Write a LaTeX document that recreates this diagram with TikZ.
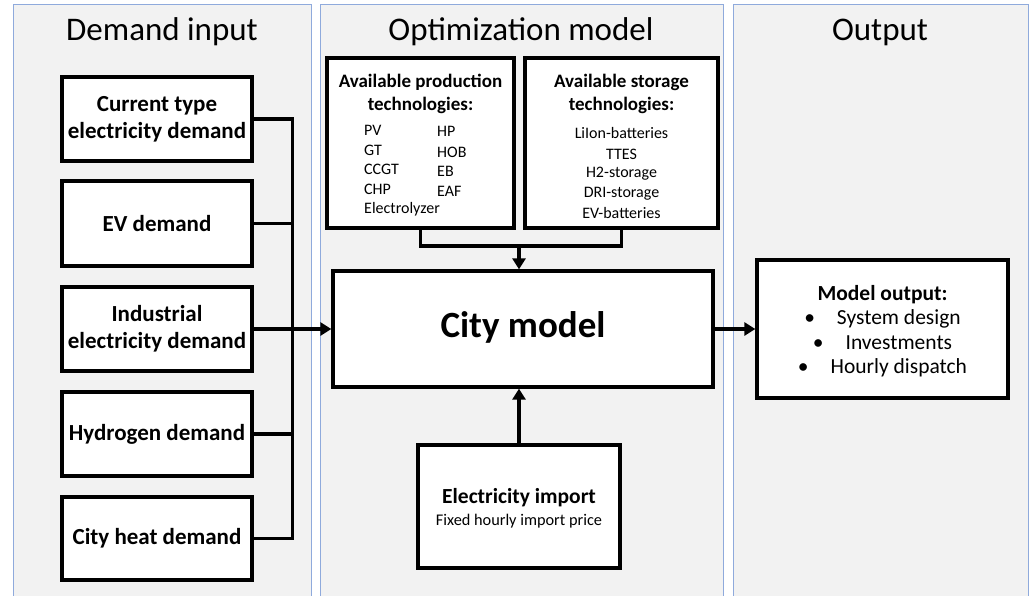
\documentclass[tikz,border=0pt]{standalone}
\usepackage{fontspec}
\setmainfont{Carlito}
\usetikzlibrary{arrows.meta}
\definecolor{panelfill}{HTML}{F2F2F2}
\definecolor{panelline}{HTML}{8FAADC}
\tikzset{
  panel/.style={draw=panelline, line width=1.2pt, fill=panelfill, inner sep=0pt, anchor=north west},
  box/.style={draw=black, line width=3.3pt, fill=white, inner sep=0pt, align=center},
  ttl/.style={font=\fontsize{33}{38}\selectfont, inner sep=0pt},
  boxtxt/.style={font=\bfseries\fontsize{23}{27}\selectfont, align=center, inner sep=0pt},
  small/.style={font=\fontsize{16}{20}\selectfont, inner sep=0pt},
  conn/.style={line width=3.3pt},
  arr/.style={line width=3.3pt, -{Triangle[length=11pt,width=13pt]}},
}
\begin{document}
\begin{tikzpicture}[x=1pt,y=-1pt]
\useasboundingbox (0,0) rectangle (1030,595);
% panels
\node[panel, minimum width=298pt, minimum height=592pt] (p1) at (13,4) {};
\node[panel, minimum width=403pt, minimum height=592pt] (p2) at (319.5,4) {};
\node[panel, minimum width=295pt, minimum height=592pt] (p3) at (733,4) {};
\node[ttl] (t1) at (162,32) {Demand input};
\node[ttl] (t2) at (521,32) {Optimization model};
\node[ttl] (t3) at (880,32) {Output};
% demand boxes
\node[box, minimum width=190pt, minimum height=84pt] (b1) at (157,119) {};
\node[boxtxt] (b1t) at (b1) {Current type\\electricity demand};
\node[box, minimum width=190pt, minimum height=85pt] (b2) at (157,223.5) {};
\node[boxtxt] (b2t) at (b2) {EV demand};
\node[box, minimum width=190pt, minimum height=84pt] (b3) at (157,329) {};
\node[boxtxt] (b3t) at (b3) {Industrial\\electricity demand};
\node[box, minimum width=190pt, minimum height=84pt] (b4) at (157,434) {};
\node[boxtxt] (b4t) at (b4) {Hydrogen demand};
\node[box, minimum width=190pt, minimum height=83pt] (b5) at (157,538.5) {};
\node[boxtxt] (b5t) at (b5) {City heat demand};
% city model
\node[box, minimum width=380pt, minimum height=116pt] (city) at (523,329) {};
\node[font=\bfseries\fontsize{37}{40}\selectfont, inner sep=0pt] (cityt) at (523,327) {City model};
% production technologies
\node[box, minimum width=187pt, minimum height=170pt] (prod) at (420.5,143) {};
\node[font=\bfseries\fontsize{19}{22.5}\selectfont, align=center, inner sep=0pt] (prodt) at (420.5,94) {Available production\\technologies:};
\node[small, anchor=west] (pv) at (364,130) {PV};
\node[small, anchor=west] (gt) at (364,150) {GT};
\node[small, anchor=west] (ccgt) at (364,169.5) {CCGT};
\node[small, anchor=west] (chp) at (364,189) {CHP};
\node[small, anchor=west] (ely) at (364,209) {Electrolyzer};
\node[small, anchor=west] (hp) at (437,131) {HP};
\node[small, anchor=west] (hob) at (437,152) {HOB};
\node[small, anchor=west] (eb) at (437,171) {EB};
\node[small, anchor=west] (eaf) at (437,191) {EAF};
% storage technologies
\node[box, minimum width=193pt, minimum height=170pt] (stor) at (621.5,143) {};
\node[font=\bfseries\fontsize{19}{22.5}\selectfont, align=center, inner sep=0pt] (stort) at (621.5,94) {Available storage\\technologies:};
\node[small] (s1) at (621.5,133) {LiIon-batteries};
\node[small] (s2) at (621.5,154) {TTES};
\node[small] (s3) at (621.5,174) {H2-storage};
\node[small] (s4) at (621.5,194) {DRI-storage};
\node[small] (s5) at (621.5,213) {EV-batteries};
% electricity import
\node[box, minimum width=202pt, minimum height=123pt] (imp) at (519,506.5) {};
\node[font=\bfseries\fontsize{21.5}{24}\selectfont, inner sep=0pt] (impt) at (519,498) {Electricity import};
\node[font=\fontsize{16.3}{20}\selectfont, inner sep=0pt] (imps) at (519,521) {Fixed hourly import price};
% output
\node[box, minimum width=251pt, minimum height=138pt] (out) at (882.5,329) {};
\node[font=\fontsize{21.5}{24.5}\selectfont, align=center, inner sep=0pt] (outt) at (882.5,331) {\textbf{Model output:}\\\textbullet\hspace{22pt}System design\\\textbullet\hspace{22pt}Investments\\\textbullet\hspace{22pt}Hourly dispatch};
% connectors
\coordinate (bus) at (292.5,329);
\draw[conn] (b1.east) -| (bus);
\draw[conn] (b2.east) -| (bus);
\draw[conn] (b3.east) -| (bus);
\draw[conn] (b4.east) -| (bus);
\draw[conn] (b5.east) -| (bus);
\draw[arr] (bus) -- (city.west);
\coordinate (join) at (519,246);
\draw[conn] (prod.south) |- (join);
\draw[conn] (stor.south) |- (join);
\draw[arr] (join) -- (join |- city.north);
\draw[arr] (imp.north) -- (imp.north |- city.south);
\draw[arr] (city.east) -- (out.west);
\end{tikzpicture}
\end{document}
